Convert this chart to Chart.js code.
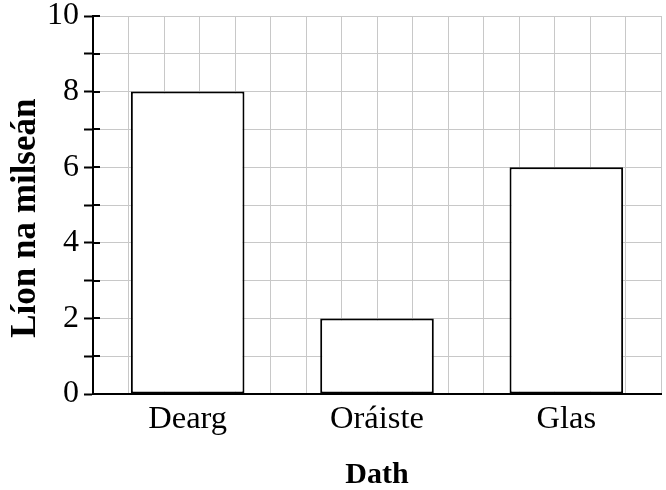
<!DOCTYPE html>
<html>
<head>
<meta charset="utf-8">
<script src="https://cdn.jsdelivr.net/npm/chart.js@4"></script>
<style>
  html, body { margin: 0; padding: 0; background: #fff; }
  #wrap { width: 666px; height: 490px; }
</style>
</head>
<body>
<div id="wrap"><canvas id="chart" width="666" height="490"></canvas></div>
<script>
// Data
const colours = ["Dearg", "Oráiste", "Glas"];
const sweetCounts = [8, 2, 6];
const yTicks = [0, 2, 4, 6, 8, 10];

const serif = "'Liberation Serif', 'Times New Roman', serif";
const gridGrey = "#c8c8c8";

// short black tick stubs inside the y axis
const innerTicks = {
  id: "innerTicks",
  afterDraw(chart) {
    const y = chart.scales.y;
    const ctx = chart.ctx;
    ctx.save();
    ctx.strokeStyle = "#000";
    ctx.lineWidth = 2;
    y.ticks.forEach(t => {
      const py = Math.round(y.getPixelForValue(t.value));
      ctx.beginPath();
      ctx.moveTo(y.right, py);
      ctx.lineTo(y.right + 7, py);
      ctx.stroke();
    });
    ctx.restore();
  }
};

const ctx = document.getElementById("chart").getContext("2d");
const chart = new Chart(ctx, {
  type: "bar",
  data: {
    labels: colours,
    datasets: [{
      data: sweetCounts,
      backgroundColor: "#fff",
      borderColor: "#000",
      borderWidth: 2,
      borderSkipped: false,
      barPercentage: 0.6,
      categoryPercentage: 1
    }]
  },
  options: {
    responsive: false,
    animation: false,
    layout: { padding: { left: 0, right: 5, top: 16, bottom: 0 } },
    plugins: { legend: { display: false }, tooltip: { enabled: false } },
    scales: {
      x: {
        position: "bottom",
        grid: { display: false, drawTicks: false },
        border: { display: true, color: "#000", width: 2 },
        ticks: { color: "#000", font: { family: serif, size: 32.5 }, padding: 6 },
        title: {
          display: true, text: "Dath", color: "#000",
          font: { family: serif, size: 30, weight: "bold", lineHeight: 1 },
          padding: { top: 0, bottom: 0 }
        },
        afterFit: s => { s.height = 96; s.paddingLeft = 0; s.paddingRight = 0; }
      },
      xGrid: {
        type: "linear",
        position: "top",
        min: 0, max: 15,
        ticks: { display: false, stepSize: 1 },
        grid: { color: gridGrey, lineWidth: 1, drawTicks: false },
        border: { display: false },
        afterFit: s => { s.height = 0; }
      },
      y: {
        min: 0, max: 10,
        ticks: {
          stepSize: 1,
          autoSkip: false,
          color: "#000",
          font: { family: serif, size: 32 },
          padding: 5,
          callback: v => yTicks.includes(v) ? v : ""
        },
        grid: { color: gridGrey, lineWidth: 1, tickColor: "#000", tickLength: 9, tickWidth: 2 },
        border: { display: true, color: "#000", width: 2 },
        title: {
          display: true, text: "Líon na milseán   ", color: "#000",
          font: { family: serif, size: 35, weight: "bold", lineHeight: 1 },
          padding: { top: 8, bottom: 0 }
        },
        afterFit: s => { s.width = 93; s.paddingTop = 0; s.paddingBottom = 0; }
      }
    }
  },
  plugins: [innerTicks]
});
</script>
</body>
</html>
